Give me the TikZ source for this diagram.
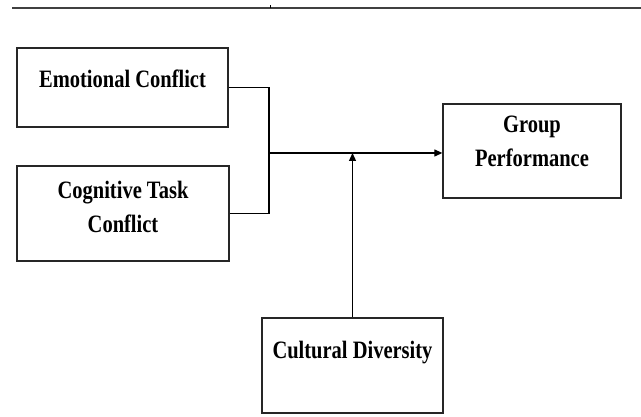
\documentclass[tikz,border=0pt]{standalone}
\usepackage{fontspec}
\setmainfont{Liberation Serif}[FakeStretch=0.82]
\usetikzlibrary{arrows.meta, calc}

\begin{document}
\begin{tikzpicture}[x=1pt, y=1pt,
    box/.style={rectangle, draw=black!85, line width=1.3pt},
    boxtext/.style={inner sep=0pt, align=center, font={\fontsize{25pt}{34pt}\selectfont\bfseries}},
    link/.style={line width=1.2pt, black},
    arrow/.style={link, -{Triangle[length=8pt, width=7pt]}}
]
    \useasboundingbox (0,0) rectangle (641,417);
    \draw[gray!50!black, line width=2pt] (12,408.5) -- (641,408.5);
    \draw[black, line width=1pt] (270,408.5) -- (270,411.5);

    \node[box, minimum width=211pt, minimum height=79pt] (emotional) at (122.5,329.5) {};
    \node[box, minimum width=212pt, minimum height=95pt] (cognitive) at (123,203.5) {};
    \node[box, minimum width=178pt, minimum height=94pt] (group) at (532,266) {};
    \node[box, minimum width=181pt, minimum height=95pt] (cultural) at (352.5,51.5) {};

    \node[boxtext] (emotionalText) at ([yshift=9pt]emotional.center) {Emotional Conflict};
    \node[boxtext] (cognitiveText) at ([yshift=7pt]cognitive.center) {Cognitive Task\\Conflict};
    \node[boxtext] (groupText) at ([yshift=9.5pt]group.center) {Group\\Performance};
    \node[boxtext] (culturalText) at ([yshift=12.5pt]cultural.center) {Cultural Diversity};

    \coordinate (join) at (269,264);
    \draw[link] (emotional.east) -| (join) |- (cognitive.east);
    \draw[arrow] (join) -- (join -| group.west);
    \draw[arrow] (cultural.north) -- (cultural.north |- join);
\end{tikzpicture}
\end{document}
